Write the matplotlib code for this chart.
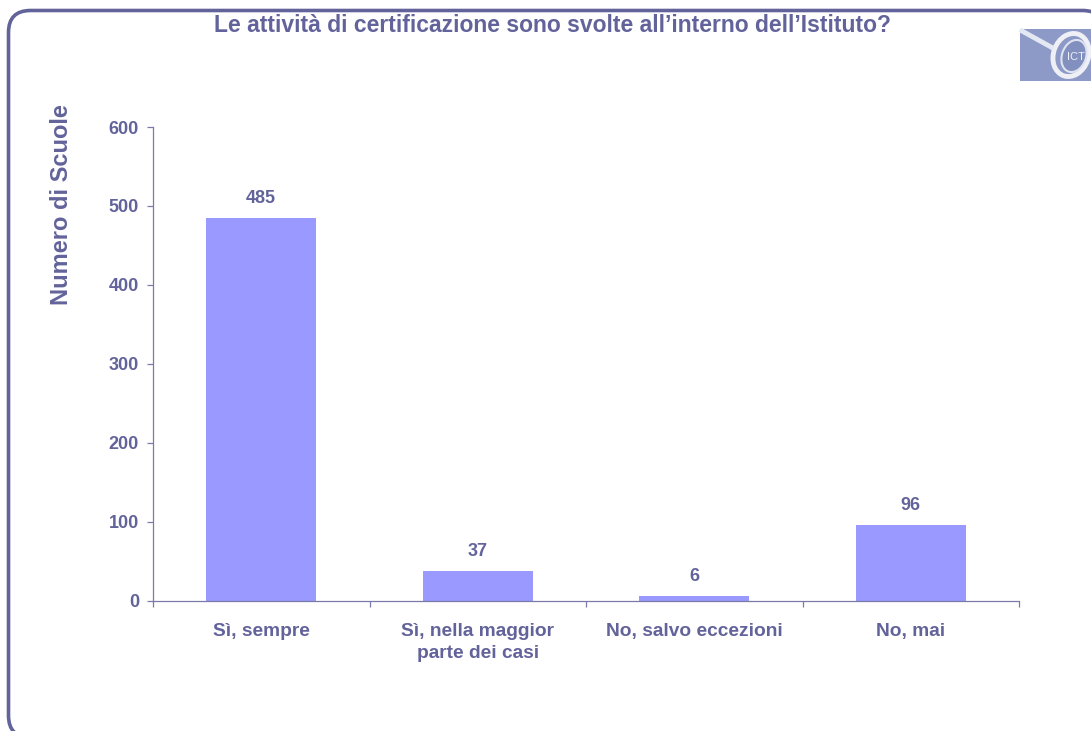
import matplotlib
matplotlib.use("Agg")
import matplotlib.pyplot as plt
from matplotlib.patches import FancyBboxPatch, Rectangle, Ellipse
from matplotlib.lines import Line2D

categories = ["Sì, sempre", "Sì, nella maggior\nparte dei casi", "No, salvo eccezioni", "No, mai"]
values = [485, 37, 6, 96]
y_ticks = [0, 100, 200, 300, 400, 500, 600]

W, H = 1091, 731
dark = "#63639b"
bar_col = "#9999ff"
axis_col = "#7a7aa8"

plt.rcParams["font.family"] = ["Liberation Sans", "DejaVu Sans"]
plt.rcParams["font.weight"] = "bold"

fig = plt.figure(figsize=(W / 100, H / 100), dpi=100, facecolor="white")

# background layer in pixel coords, y down
bg = fig.add_axes([0, 0, 1, 1])
bg.set_xlim(0, W)
bg.set_ylim(H, 0)
bg.axis("off")
bg.add_patch(FancyBboxPatch((8.5, 10.5), 1096, 727, boxstyle="round,pad=0,rounding_size=22",
                            fc="white", ec=dark, lw=2.6))

# logo
bg.add_patch(Rectangle((1020, 28.5), 71, 52, fc="#8d9ac8", ec="none"))
bg.add_line(Line2D([1022, 1051], [31, 47], color="#e4e8f2", lw=3.5))
bg.add_patch(Ellipse((1071, 55), 35, 44, angle=20, fc="none", ec="#eef0f6", lw=3.5))
bg.add_patch(Ellipse((1074, 56), 24, 33, angle=20, fc="#8290c0", ec="#dfe3ef", lw=1.5))
bg.text(1076, 57, "ICT", fontsize=8, color="#eef0f6", ha="center", va="center", weight="normal")

bg.text(553, 26, "Le attività di certificazione sono svolte all’interno dell’Istituto?",
        fontsize=16.5, color=dark, ha="center", va="center")
bg.text(62, 205, "Numero di Scuole", fontsize=17, color=dark, rotation=90, ha="center", va="center")

# plot area
x0, x1, y_top, y_bot = 153, 1019, 127, 600.5
ax = fig.add_axes([x0 / W, 1 - y_bot / H, (x1 - x0) / W, (y_bot - y_top) / H])
ax.patch.set_alpha(0)
pos = list(range(len(categories)))
ax.bar(pos, values, width=0.507, color=bar_col, zorder=2)
ax.set_xlim(-0.5, 3.5)
ax.set_ylim(0, 600)

for i, v in zip(pos, values):
    ax.annotate(str(v), (i, v), xytext=(0, 14), textcoords="offset points", fontsize=13,
                color=dark, ha="center", va="center")

for s in ["top", "right"]:
    ax.spines[s].set_visible(False)
for s in ["left", "bottom"]:
    ax.spines[s].set_color(axis_col)
    ax.spines[s].set_linewidth(0.9)

ax.set_yticks(y_ticks)
ax.set_yticklabels([str(t) for t in y_ticks], fontsize=13, color=dark)
ax.tick_params(axis="y", length=4.5, width=0.9, color=axis_col, pad=5.5)

# ticks between categories, labels on centres
ax.set_xticks([-0.5, 0.5, 1.5, 2.5, 3.5], minor=True)
ax.tick_params(axis="x", which="minor", length=4, width=0.9, color=axis_col, direction="out")
ax.set_xticks(pos)
ax.set_xticklabels(categories, fontsize=13.8, color=dark, linespacing=1.38, va="top")
ax.tick_params(axis="x", which="major", length=0, pad=16.5)

fig.savefig("out.png", dpi=100)
